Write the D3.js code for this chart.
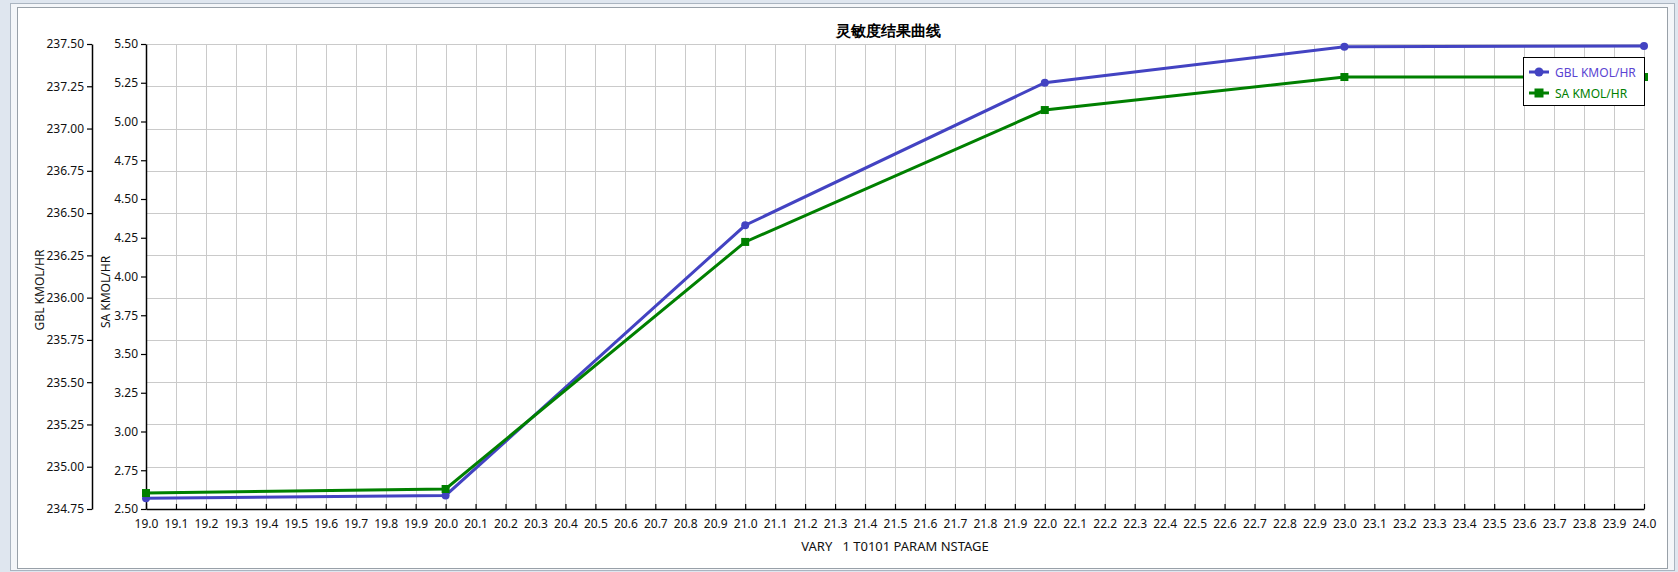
<!DOCTYPE html>
<html>
<head>
<meta charset="utf-8">
<script src="https://cdn.jsdelivr.net/npm/d3@7/dist/d3.min.js"></script>
<style>
  html, body { margin: 0; padding: 0; background: #ffffff; }
  svg { display: block; }
  text { font-family: "Noto Sans", "Open Sans", sans-serif; }
</style>
</head>
<body>
<svg id="chart" width="1678" height="572"></svg>
<script>
// ---- data ----
const title = "灵敏度结果曲线";
const xLabel = "VARY   1 T0101 PARAM NSTAGE";
const categories = [19.0, 20.0, 21.0, 22.0, 23.0, 24.0];
const gblValues = [234.813, 234.830, 236.428, 237.271, 237.484, 237.488];
const saValues = [2.603, 2.629, 4.223, 5.074, 5.287, 5.287];
const seriesNames = ["GBL KMOL/HR", "SA KMOL/HR"];
const gblTicks = [234.75, 235.00, 235.25, 235.50, 235.75, 236.00, 236.25, 236.50, 236.75, 237.00, 237.25, 237.50];
const saTicks = [2.50, 2.75, 3.00, 3.25, 3.50, 3.75, 4.00, 4.25, 4.50, 4.75, 5.00, 5.25, 5.50];
const xTicks = d3.range(190, 241).map(v => v / 10);

// ---- layout ----
const svg = d3.select("#chart");
const L = 146, R = 1644, T = 44, B = 509;
const blue = "#4343c2", green = "#008000";

// window frame
svg.append("rect").attr("x", 0).attr("y", 0).attr("width", 1678).attr("height", 572).attr("fill", "#dfe6ef");
svg.append("rect").attr("x", 10.5).attr("y", 3.5).attr("width", 1664).attr("height", 567).attr("fill", "#f4f6f9").attr("stroke", "#aab4c0");
svg.append("rect").attr("x", 17.5).attr("y", 7.5).attr("width", 1650).attr("height", 561).attr("fill", "#ffffff").attr("stroke", "#98a0a8");

const x = d3.scaleLinear().domain([19, 24]).range([L, R]);
const yG = d3.scaleLinear().domain([234.75, 237.5]).range([B, T]);
const yS = d3.scaleLinear().domain([2.5, 5.5]).range([B, T]);

// grid
const grid = svg.append("g");
grid.selectAll("line.v").data(xTicks).join("line")
  .attr("x1", d => Math.round(x(d)) + 0.5).attr("x2", d => Math.round(x(d)) + 0.5)
  .attr("y1", T).attr("y2", B).attr("stroke", "#cacaca").attr("stroke-width", 1);
grid.selectAll("line.h").data(gblTicks).join("line")
  .attr("x1", L).attr("x2", R)
  .attr("y1", d => Math.round(yG(d)) + 0.5).attr("y2", d => Math.round(yG(d)) + 0.5)
  .attr("stroke", "#cacaca").attr("stroke-width", 1);

// axes
const axStyle = g => {
  g.selectAll("path").attr("stroke", "#000").attr("stroke-width", 1.5);
  g.selectAll("line").attr("stroke", "#000").attr("stroke-width", 1.2);
  g.selectAll("text").attr("font-size", 12).attr("fill", "#111").attr("font-family", "'Noto Sans', sans-serif");
};
svg.append("g").attr("transform", `translate(${L},0)`)
  .call(d3.axisLeft(yS).tickValues(saTicks).tickFormat(d3.format(".2f")).tickSize(5).tickSizeOuter(0).tickPadding(3))
  .call(axStyle);
svg.append("g").attr("transform", `translate(92,0)`)
  .call(d3.axisLeft(yG).tickValues(gblTicks).tickFormat(d3.format(".2f")).tickSize(5).tickSizeOuter(0).tickPadding(3))
  .call(axStyle);
svg.append("g").attr("transform", `translate(0,${B})`)
  .call(d3.axisBottom(x).tickValues(xTicks).tickFormat(d3.format(".1f")).tickSize(-5).tickSizeOuter(0).tickPadding(10))
  .call(axStyle);

// axis titles
svg.append("text").attr("x", 895).attr("y", 551).attr("text-anchor", "middle")
  .attr("font-size", 13).attr("fill", "#111").style("white-space", "pre").attr("xml:space", "preserve").text(xLabel);
svg.append("text").attr("transform", "translate(44,290) rotate(-90)").attr("text-anchor", "middle")
  .attr("font-size", 12).attr("fill", "#111").text(seriesNames[0]);
svg.append("text").attr("transform", "translate(110,292) rotate(-90)").attr("text-anchor", "middle")
  .attr("font-size", 12).attr("fill", "#111").text(seriesNames[1]);

// title
svg.append("text").attr("x", 888).attr("y", 36).attr("text-anchor", "middle")
  .attr("font-size", 15).attr("font-weight", "bold").attr("fill", "#000")
  .attr("font-family", "'Noto Sans CJK SC', sans-serif").text(title);

// series
const gblData = categories.map((c, i) => [c, gblValues[i]]);
const saData = categories.map((c, i) => [c, saValues[i]]);
svg.append("path").datum(gblData)
  .attr("d", d3.line().x(d => x(d[0])).y(d => yG(d[1])))
  .attr("fill", "none").attr("stroke", blue).attr("stroke-width", 3);
svg.selectAll("circle.g").data(gblData).join("circle")
  .attr("cx", d => x(d[0])).attr("cy", d => yG(d[1])).attr("r", 4).attr("fill", blue);
svg.append("path").datum(saData)
  .attr("d", d3.line().x(d => x(d[0])).y(d => yS(d[1])))
  .attr("fill", "none").attr("stroke", green).attr("stroke-width", 3);
svg.selectAll("rect.s").data(saData).join("rect")
  .attr("x", d => x(d[0]) - 4).attr("y", d => yS(d[1]) - 4).attr("width", 8).attr("height", 8).attr("fill", green);

// legend
const lg = svg.append("g");
lg.append("rect").attr("x", 1523.5).attr("y", 57.5).attr("width", 121).attr("height", 48)
  .attr("fill", "#fff").attr("stroke", "#000").attr("stroke-width", 1);
const legendColors = [blue, green];
const legendTextColors = ["#5a44d2", green];
seriesNames.forEach((name, i) => {
  const yy = 72 + i * 21;
  lg.append("line").attr("x1", 1529).attr("x2", 1549).attr("y1", yy).attr("y2", yy)
    .attr("stroke", legendColors[i]).attr("stroke-width", 3);
  if (i === 0) lg.append("circle").attr("cx", 1539).attr("cy", yy).attr("r", 4.5).attr("fill", blue);
  else lg.append("rect").attr("x", 1534.5).attr("y", yy - 4.5).attr("width", 9).attr("height", 9).attr("fill", green);
  lg.append("text").attr("x", 1555).attr("y", yy + 4.5).attr("font-size", 12)
    .attr("fill", legendTextColors[i]).text(name);
});
</script>
</body>
</html>
